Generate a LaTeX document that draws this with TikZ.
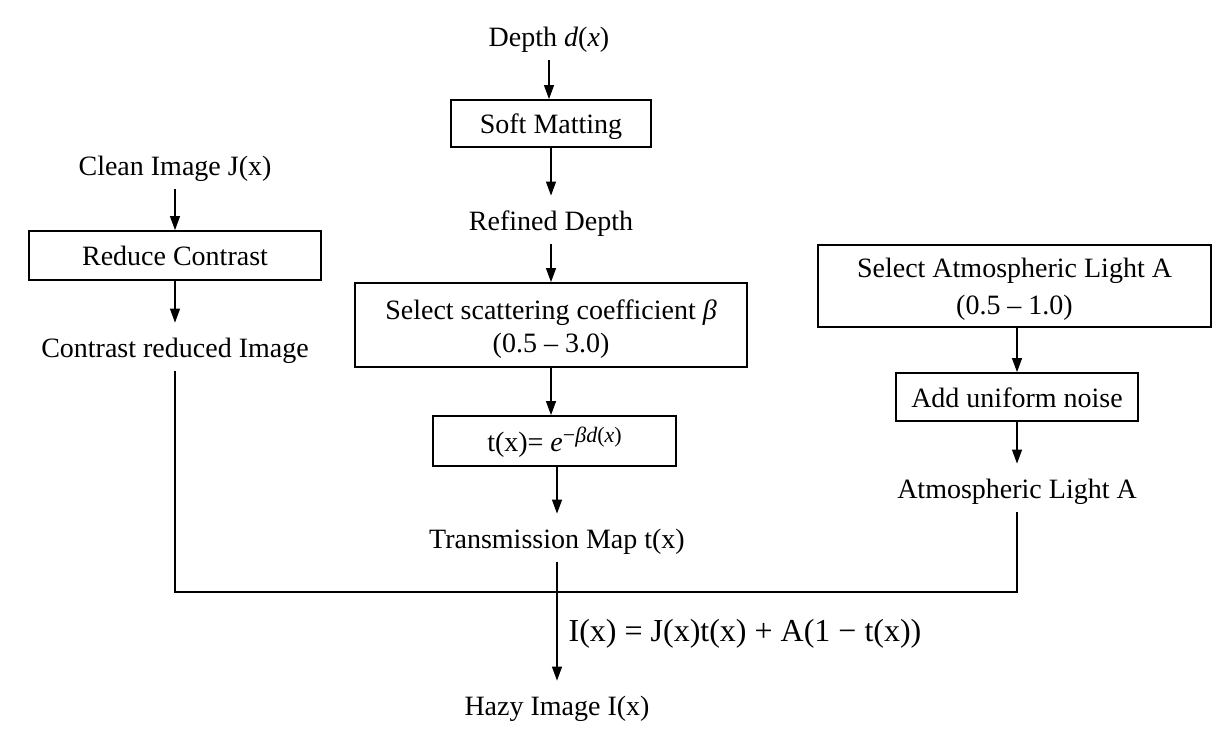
\documentclass[tikz,border=0pt]{standalone}
\usepackage{fontspec}
\setmainfont{Liberation Serif}
\usetikzlibrary{arrows.meta,calc}
\tikzset{
  lbl/.style={font=\fontsize{14}{16.5}\selectfont, inner sep=0pt, minimum height=24pt, text height=13.3pt, text depth=2.5pt},
  boxnode/.style={draw, line width=0.9pt, font=\fontsize{14}{16.5}\selectfont, align=center, inner sep=0pt},
  onebox/.style={boxnode, text height=13.5pt, text depth=3pt},
  arr/.style={line width=0.6pt, -{Triangle[length=7pt,width=5pt]}},
  ln/.style={line width=0.6pt},
}
\begin{document}
\begin{tikzpicture}[x=0.5pt,y=-0.5pt]
\useasboundingbox (0,0) rectangle (1219,748);
% middle column
\node[lbl] (depth) at (549,36) {Depth \textit{d}(\textit{x})};
\node[onebox, minimum width=100pt, minimum height=23.5pt] (soft) at (551,123.5) {Soft Matting};
\node[lbl] (refined) at (551,220) {Refined Depth};
\node[boxnode, minimum width=196pt, minimum height=42pt] (scat) at (551,325) {\rule{0pt}{13.5pt}Select scattering coefficient \textit{β}\\(0.5 – 3.0)};
\node[onebox, minimum width=121.5pt, minimum height=25pt] (tbox) at (554.5,441) {t(x)= \textit{e}\raisebox{4.5pt}{\fontsize{11}{12}\selectfont −\textit{βd}(\textit{x})}};
\node[lbl] (trans) at (557,538) {Transmission Map t(x)};
\node[lbl] (hazy) at (557,705) {Hazy Image I(x)};
\node[font=\fontsize{16}{19}\selectfont, inner sep=0pt] (eq) at (745,634) {I(x) = J(x)t(x) + A(1 − t(x))};
% left column
\node[lbl] (clean) at (175,165) {Clean Image J(x)};
\node[onebox, minimum width=146pt, minimum height=24.5pt] (reduce) at (175,255.5) {Reduce Contrast};
\node[lbl] (contrast) at (175,347) {Contrast reduced Image};
% right column
\node[boxnode, minimum width=196.5pt, minimum height=41pt] (atmsel) at (1014.5,286) {\rule{0pt}{13pt}Select Atmospheric Light A\\[2pt](0.5 – 1.0)};
\node[onebox, minimum width=121pt, minimum height=24pt] (noise) at (1017,397) {Add uniform noise};
\node[lbl] (atm) at (1017,488) {Atmospheric Light A};
\coordinate (join) at (556,592);
% arrows
\draw[arr] (depth.south) -- (depth.south |- soft.north);
\draw[arr] (soft.south) -- (soft.south |- refined.north);
\draw[arr] (refined.south) -- (refined.south |- scat.north);
\draw[arr] (scat.south) -- (scat.south |- tbox.north);
\draw[arr] (trans.north |- tbox.south) -- (trans.north);
\draw[arr] (trans.south) -- (trans.south |- hazy.north);
\draw[arr] (clean.south) -- (clean.south |- reduce.north);
\draw[arr] (reduce.south) -- (reduce.south |- contrast.north);
\draw[arr] (atmsel.south -| noise.north) -- (noise.north);
\draw[arr] (noise.south) -- (noise.south |- atm.north);
\draw[ln] (contrast.south) -- (contrast.south |- join) -- (join -| atm.south) -- (atm.south);
\end{tikzpicture}
\end{document}
